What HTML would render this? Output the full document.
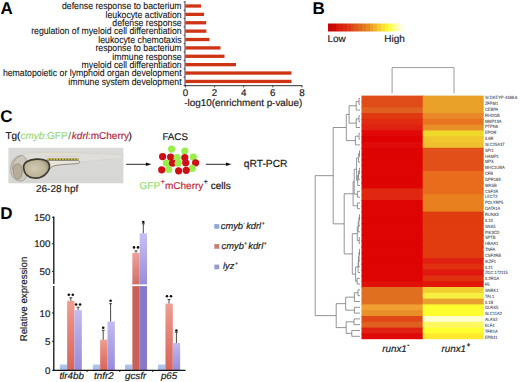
<!DOCTYPE html>
<html><head><meta charset="utf-8"><style>
html,body{margin:0;padding:0;background:#fff;}
body{width:520px;height:382px;overflow:hidden;}
svg{display:block;font-family:"Liberation Sans", sans-serif;text-rendering:geometricPrecision;}
</style></head><body>
<svg width="520" height="382" viewBox="0 0 520 382">
<rect width="520" height="382" fill="#fff"/>
<text x="0.4" y="14.3" font-size="17" font-weight="bold">A</text>
<text transform="translate(181.6 9.25) scale(0.968 1.08)" font-size="9.0" text-anchor="end" fill="#111" stroke="#111" stroke-width="0.08">defense response to bacterium</text>
<rect x="185.5" y="4.35" width="15.60" height="3.3" fill="#cf3514"/>
<text transform="translate(181.6 17.63) scale(0.968 1.08)" font-size="9.0" text-anchor="end" fill="#111" stroke="#111" stroke-width="0.08">leukocyte activation</text>
<rect x="185.5" y="12.73" width="18.50" height="3.3" fill="#cf3514"/>
<text transform="translate(181.6 26.01) scale(0.968 1.08)" font-size="9.0" text-anchor="end" fill="#111" stroke="#111" stroke-width="0.08">defense response</text>
<rect x="185.5" y="21.11" width="20.70" height="3.3" fill="#cf3514"/>
<text transform="translate(181.6 34.39) scale(0.968 1.08)" font-size="9.0" text-anchor="end" fill="#111" stroke="#111" stroke-width="0.08">regulation of myeloid cell differentiation</text>
<rect x="185.5" y="29.49" width="20.90" height="3.3" fill="#cf3514"/>
<text transform="translate(181.6 42.77) scale(0.968 1.08)" font-size="9.0" text-anchor="end" fill="#111" stroke="#111" stroke-width="0.08">leukocyte chemotaxis</text>
<rect x="185.5" y="37.87" width="23.90" height="3.3" fill="#cf3514"/>
<text transform="translate(181.6 51.15) scale(0.968 1.08)" font-size="9.0" text-anchor="end" fill="#111" stroke="#111" stroke-width="0.08">response to bacterium</text>
<rect x="185.5" y="46.25" width="35.00" height="3.3" fill="#cf3514"/>
<text transform="translate(181.6 59.53) scale(0.968 1.08)" font-size="9.0" text-anchor="end" fill="#111" stroke="#111" stroke-width="0.08">immune response</text>
<rect x="185.5" y="54.63" width="39.00" height="3.3" fill="#cf3514"/>
<text transform="translate(181.6 67.91) scale(0.968 1.08)" font-size="9.0" text-anchor="end" fill="#111" stroke="#111" stroke-width="0.08">myeloid cell differentiation</text>
<rect x="185.5" y="63.01" width="50.50" height="3.3" fill="#cf3514"/>
<text transform="translate(181.6 76.29) scale(0.968 1.08)" font-size="9.0" text-anchor="end" fill="#111" stroke="#111" stroke-width="0.08">hematopoietic or lymphoid organ development</text>
<rect x="185.5" y="71.39" width="106.00" height="3.3" fill="#cf3514"/>
<text transform="translate(181.6 84.67) scale(0.968 1.08)" font-size="9.0" text-anchor="end" fill="#111" stroke="#111" stroke-width="0.08">immune system development</text>
<rect x="185.5" y="79.77" width="106.00" height="3.3" fill="#cf3514"/>
<line x1="185" y1="1.2" x2="185" y2="85.9" stroke="#2a2a40" stroke-width="0.9"/>
<line x1="183.6" y1="1.76" x2="185" y2="1.76" stroke="#2a2a40" stroke-width="0.8"/>
<line x1="183.6" y1="10.14" x2="185" y2="10.14" stroke="#2a2a40" stroke-width="0.8"/>
<line x1="183.6" y1="18.52" x2="185" y2="18.52" stroke="#2a2a40" stroke-width="0.8"/>
<line x1="183.6" y1="26.90" x2="185" y2="26.90" stroke="#2a2a40" stroke-width="0.8"/>
<line x1="183.6" y1="35.28" x2="185" y2="35.28" stroke="#2a2a40" stroke-width="0.8"/>
<line x1="183.6" y1="43.66" x2="185" y2="43.66" stroke="#2a2a40" stroke-width="0.8"/>
<line x1="183.6" y1="52.04" x2="185" y2="52.04" stroke="#2a2a40" stroke-width="0.8"/>
<line x1="183.6" y1="60.42" x2="185" y2="60.42" stroke="#2a2a40" stroke-width="0.8"/>
<line x1="183.6" y1="68.80" x2="185" y2="68.80" stroke="#2a2a40" stroke-width="0.8"/>
<line x1="183.6" y1="77.18" x2="185" y2="77.18" stroke="#2a2a40" stroke-width="0.8"/>
<line x1="183.6" y1="85.56" x2="185" y2="85.56" stroke="#2a2a40" stroke-width="0.8"/>
<line x1="184.6" y1="85.7" x2="302.4" y2="85.7" stroke="#1a1a1a" stroke-width="0.9"/>
<line x1="185.50" y1="85.7" x2="185.50" y2="87.4" stroke="#1a1a1a" stroke-width="0.8"/>
<text x="185.50" y="96.1" font-size="9.8" text-anchor="middle" fill="#1a1a1a" stroke="#1a1a1a" stroke-width="0.18">0</text>
<line x1="214.60" y1="85.7" x2="214.60" y2="87.4" stroke="#1a1a1a" stroke-width="0.8"/>
<text x="214.60" y="96.1" font-size="9.8" text-anchor="middle" fill="#1a1a1a" stroke="#1a1a1a" stroke-width="0.18">2</text>
<line x1="243.70" y1="85.7" x2="243.70" y2="87.4" stroke="#1a1a1a" stroke-width="0.8"/>
<text x="243.70" y="96.1" font-size="9.8" text-anchor="middle" fill="#1a1a1a" stroke="#1a1a1a" stroke-width="0.18">4</text>
<line x1="272.80" y1="85.7" x2="272.80" y2="87.4" stroke="#1a1a1a" stroke-width="0.8"/>
<text x="272.80" y="96.1" font-size="9.8" text-anchor="middle" fill="#1a1a1a" stroke="#1a1a1a" stroke-width="0.18">6</text>
<line x1="301.90" y1="85.7" x2="301.90" y2="87.4" stroke="#1a1a1a" stroke-width="0.8"/>
<text x="301.90" y="96.1" font-size="9.8" text-anchor="middle" fill="#1a1a1a" stroke="#1a1a1a" stroke-width="0.18">8</text>
<text x="184.3" y="105.5" font-size="9.9" fill="#1a1a1a" stroke="#1a1a1a" stroke-width="0.18">-log10(enrichment p-value)</text>
<text x="312.6" y="14.2" font-size="17" font-weight="bold">B</text>
<defs><linearGradient id="cbar" x1="0" y1="0" x2="1" y2="0"><stop offset="0.0000" stop-color="#c80606"/><stop offset="0.0500" stop-color="#c80606"/><stop offset="0.0500" stop-color="#cc0a08"/><stop offset="0.1000" stop-color="#cc0a08"/><stop offset="0.1000" stop-color="#d4160c"/><stop offset="0.1500" stop-color="#d4160c"/><stop offset="0.1500" stop-color="#d8200e"/><stop offset="0.2000" stop-color="#d8200e"/><stop offset="0.2000" stop-color="#da2a10"/><stop offset="0.2500" stop-color="#da2a10"/><stop offset="0.2500" stop-color="#dc3a14"/><stop offset="0.3000" stop-color="#dc3a14"/><stop offset="0.3000" stop-color="#dc4a18"/><stop offset="0.3500" stop-color="#dc4a18"/><stop offset="0.3500" stop-color="#de5a1c"/><stop offset="0.4000" stop-color="#de5a1c"/><stop offset="0.4000" stop-color="#e0681e"/><stop offset="0.4500" stop-color="#e0681e"/><stop offset="0.4500" stop-color="#e27820"/><stop offset="0.5000" stop-color="#e27820"/><stop offset="0.5000" stop-color="#e68a24"/><stop offset="0.5500" stop-color="#e68a24"/><stop offset="0.5500" stop-color="#eca028"/><stop offset="0.6000" stop-color="#eca028"/><stop offset="0.6000" stop-color="#f2b42a"/><stop offset="0.6500" stop-color="#f2b42a"/><stop offset="0.6500" stop-color="#f8cc2e"/><stop offset="0.7000" stop-color="#f8cc2e"/><stop offset="0.7000" stop-color="#fce232"/><stop offset="0.7500" stop-color="#fce232"/><stop offset="0.7500" stop-color="#fff236"/><stop offset="0.8000" stop-color="#fff236"/><stop offset="0.8000" stop-color="#ffff44"/><stop offset="0.8500" stop-color="#ffff44"/><stop offset="0.8500" stop-color="#ffff80"/><stop offset="0.9000" stop-color="#ffff80"/><stop offset="0.9000" stop-color="#ffffb8"/><stop offset="0.9500" stop-color="#ffffb8"/><stop offset="0.9500" stop-color="#ffffe4"/><stop offset="1.0000" stop-color="#ffffe4"/></linearGradient></defs>
<rect x="328" y="23.5" width="75.60" height="8" fill="url(#cbar)"/>
<text x="327.4" y="42.2" font-size="10" fill="#1a1a1a" stroke="#1a1a1a" stroke-width="0.18">Low</text>
<text x="404.8" y="42.2" font-size="10" fill="#1a1a1a" text-anchor="end" stroke="#1a1a1a" stroke-width="0.18">High</text>
<rect x="361.5" y="95.60" width="62.20" height="7.00" fill="#e04c18"/>
<rect x="422.7" y="95.60" width="61.00" height="7.00" fill="#e8a028"/>
<text transform="translate(484.9 99.20) scale(0.88 1)" font-size="4.6" fill="#2a2a3a" stroke="#2a2a3a" stroke-width="0.04">SI:DKEYP-4488.6</text>
<rect x="361.5" y="101.40" width="62.20" height="7.00" fill="#e04c18"/>
<rect x="422.7" y="101.40" width="61.00" height="7.00" fill="#e8a028"/>
<text transform="translate(484.9 105.04) scale(0.88 1)" font-size="4.6" fill="#2a2a3a" stroke="#2a2a3a" stroke-width="0.04">ZFPM1</text>
<rect x="361.5" y="107.20" width="62.20" height="7.00" fill="#e06020"/>
<rect x="422.7" y="107.20" width="61.00" height="7.00" fill="#e8a028"/>
<text transform="translate(484.9 110.88) scale(0.88 1)" font-size="4.6" fill="#2a2a3a" stroke="#2a2a3a" stroke-width="0.04">CEBPA</text>
<rect x="361.5" y="113.00" width="62.20" height="7.00" fill="#e03810"/>
<rect x="422.7" y="113.00" width="61.00" height="7.00" fill="#e88828"/>
<text transform="translate(484.9 116.72) scale(0.88 1)" font-size="4.6" fill="#2a2a3a" stroke="#2a2a3a" stroke-width="0.04">RHOGB</text>
<rect x="361.5" y="118.80" width="62.20" height="7.00" fill="#e02c10"/>
<rect x="422.7" y="118.80" width="61.00" height="7.00" fill="#e87420"/>
<text transform="translate(484.9 122.56) scale(0.88 1)" font-size="4.6" fill="#2a2a3a" stroke="#2a2a3a" stroke-width="0.04">MMP13A</text>
<rect x="361.5" y="124.60" width="62.20" height="7.00" fill="#e02010"/>
<rect x="422.7" y="124.60" width="61.00" height="7.00" fill="#e89028"/>
<text transform="translate(484.9 128.40) scale(0.88 1)" font-size="4.6" fill="#2a2a3a" stroke="#2a2a3a" stroke-width="0.04">PTPN6</text>
<rect x="361.5" y="130.40" width="62.20" height="7.00" fill="#e00808"/>
<rect x="422.7" y="130.40" width="61.00" height="7.00" fill="#f0d82c"/>
<text transform="translate(484.9 134.24) scale(0.88 1)" font-size="4.6" fill="#2a2a3a" stroke="#2a2a3a" stroke-width="0.04">EPOR</text>
<rect x="361.5" y="136.20" width="62.20" height="7.00" fill="#de0000"/>
<rect x="422.7" y="136.20" width="61.00" height="7.00" fill="#f0c82e"/>
<text transform="translate(484.9 140.08) scale(0.88 1)" font-size="4.6" fill="#2a2a3a" stroke="#2a2a3a" stroke-width="0.04">IL6R</text>
<rect x="361.5" y="142.00" width="62.20" height="7.00" fill="#e00a0a"/>
<rect x="422.7" y="142.00" width="61.00" height="7.00" fill="#eec030"/>
<text transform="translate(484.9 145.92) scale(0.88 1)" font-size="4.6" fill="#2a2a3a" stroke="#2a2a3a" stroke-width="0.04">SLC25A37</text>
<rect x="361.5" y="147.80" width="62.20" height="7.00" fill="#de0404"/>
<rect x="422.7" y="147.80" width="61.00" height="7.00" fill="#e05018"/>
<text transform="translate(484.9 151.76) scale(0.88 1)" font-size="4.6" fill="#2a2a3a" stroke="#2a2a3a" stroke-width="0.04">SPI1</text>
<rect x="361.5" y="153.60" width="62.20" height="7.00" fill="#de0404"/>
<rect x="422.7" y="153.60" width="61.00" height="7.00" fill="#e05018"/>
<text transform="translate(484.9 157.60) scale(0.88 1)" font-size="4.6" fill="#2a2a3a" stroke="#2a2a3a" stroke-width="0.04">HAMP1</text>
<rect x="361.5" y="159.40" width="62.20" height="7.00" fill="#de0404"/>
<rect x="422.7" y="159.40" width="61.00" height="7.00" fill="#e05018"/>
<text transform="translate(484.9 163.44) scale(0.88 1)" font-size="4.6" fill="#2a2a3a" stroke="#2a2a3a" stroke-width="0.04">MPX</text>
<rect x="361.5" y="165.20" width="62.20" height="7.00" fill="#de0404"/>
<rect x="422.7" y="165.20" width="61.00" height="7.00" fill="#e05018"/>
<text transform="translate(484.9 169.28) scale(0.88 1)" font-size="4.6" fill="#2a2a3a" stroke="#2a2a3a" stroke-width="0.04">MHC1UBA</text>
<rect x="361.5" y="171.00" width="62.20" height="7.00" fill="#de0404"/>
<rect x="422.7" y="171.00" width="61.00" height="7.00" fill="#e86c1c"/>
<text transform="translate(484.9 175.12) scale(0.88 1)" font-size="4.6" fill="#2a2a3a" stroke="#2a2a3a" stroke-width="0.04">CFB</text>
<rect x="361.5" y="176.80" width="62.20" height="7.00" fill="#de0404"/>
<rect x="422.7" y="176.80" width="61.00" height="7.00" fill="#e86c1c"/>
<text transform="translate(484.9 180.96) scale(0.88 1)" font-size="4.6" fill="#2a2a3a" stroke="#2a2a3a" stroke-width="0.04">GPR183</text>
<rect x="361.5" y="182.60" width="62.20" height="7.00" fill="#de0404"/>
<rect x="422.7" y="182.60" width="61.00" height="7.00" fill="#e86c1c"/>
<text transform="translate(484.9 186.80) scale(0.88 1)" font-size="4.6" fill="#2a2a3a" stroke="#2a2a3a" stroke-width="0.04">WASB</text>
<rect x="361.5" y="188.40" width="62.20" height="7.00" fill="#e02810"/>
<rect x="422.7" y="188.40" width="61.00" height="7.00" fill="#e86c1c"/>
<text transform="translate(484.9 192.64) scale(0.88 1)" font-size="4.6" fill="#2a2a3a" stroke="#2a2a3a" stroke-width="0.04">CSF1R</text>
<rect x="361.5" y="194.20" width="62.20" height="7.00" fill="#e02810"/>
<rect x="422.7" y="194.20" width="61.00" height="7.00" fill="#e88020"/>
<text transform="translate(484.9 198.48) scale(0.88 1)" font-size="4.6" fill="#2a2a3a" stroke="#2a2a3a" stroke-width="0.04">LECT2</text>
<rect x="361.5" y="200.00" width="62.20" height="7.00" fill="#de0404"/>
<rect x="422.7" y="200.00" width="61.00" height="7.00" fill="#e88020"/>
<text transform="translate(484.9 204.32) scale(0.88 1)" font-size="4.6" fill="#2a2a3a" stroke="#2a2a3a" stroke-width="0.04">POLYRP5</text>
<rect x="361.5" y="205.80" width="62.20" height="7.00" fill="#de0404"/>
<rect x="422.7" y="205.80" width="61.00" height="7.00" fill="#e88020"/>
<text transform="translate(484.9 210.16) scale(0.88 1)" font-size="4.6" fill="#2a2a3a" stroke="#2a2a3a" stroke-width="0.04">GATA1A</text>
<rect x="361.5" y="211.60" width="62.20" height="7.00" fill="#de0404"/>
<rect x="422.7" y="211.60" width="61.00" height="7.00" fill="#e03c10"/>
<text transform="translate(484.9 216.00) scale(0.88 1)" font-size="4.6" fill="#2a2a3a" stroke="#2a2a3a" stroke-width="0.04">RUNX3</text>
<rect x="361.5" y="217.40" width="62.20" height="7.00" fill="#de0404"/>
<rect x="422.7" y="217.40" width="61.00" height="7.00" fill="#e03c10"/>
<text transform="translate(484.9 221.84) scale(0.88 1)" font-size="4.6" fill="#2a2a3a" stroke="#2a2a3a" stroke-width="0.04">IL10</text>
<rect x="361.5" y="223.20" width="62.20" height="7.00" fill="#de0404"/>
<rect x="422.7" y="223.20" width="61.00" height="7.00" fill="#e03c10"/>
<text transform="translate(484.9 227.68) scale(0.88 1)" font-size="4.6" fill="#2a2a3a" stroke="#2a2a3a" stroke-width="0.04">SNX5</text>
<rect x="361.5" y="229.00" width="62.20" height="7.00" fill="#de0404"/>
<rect x="422.7" y="229.00" width="61.00" height="7.00" fill="#e03c10"/>
<text transform="translate(484.9 233.52) scale(0.88 1)" font-size="4.6" fill="#2a2a3a" stroke="#2a2a3a" stroke-width="0.04">PIK3CD</text>
<rect x="361.5" y="234.80" width="62.20" height="7.00" fill="#de0404"/>
<rect x="422.7" y="234.80" width="61.00" height="7.00" fill="#e03c10"/>
<text transform="translate(484.9 239.36) scale(0.88 1)" font-size="4.6" fill="#2a2a3a" stroke="#2a2a3a" stroke-width="0.04">SPTB</text>
<rect x="361.5" y="240.60" width="62.20" height="7.00" fill="#de0404"/>
<rect x="422.7" y="240.60" width="61.00" height="7.00" fill="#e03c10"/>
<text transform="translate(484.9 245.20) scale(0.88 1)" font-size="4.6" fill="#2a2a3a" stroke="#2a2a3a" stroke-width="0.04">HBAA1</text>
<rect x="361.5" y="246.40" width="62.20" height="7.00" fill="#de0404"/>
<rect x="422.7" y="246.40" width="61.00" height="7.00" fill="#e03c10"/>
<text transform="translate(484.9 251.04) scale(0.88 1)" font-size="4.6" fill="#2a2a3a" stroke="#2a2a3a" stroke-width="0.04">TNFA</text>
<rect x="361.5" y="252.20" width="62.20" height="7.00" fill="#de0404"/>
<rect x="422.7" y="252.20" width="61.00" height="7.00" fill="#e03c10"/>
<text transform="translate(484.9 256.88) scale(0.88 1)" font-size="4.6" fill="#2a2a3a" stroke="#2a2a3a" stroke-width="0.04">CSF2RB</text>
<rect x="361.5" y="258.00" width="62.20" height="7.00" fill="#de0404"/>
<rect x="422.7" y="258.00" width="61.00" height="7.00" fill="#e02010"/>
<text transform="translate(484.9 262.72) scale(0.88 1)" font-size="4.6" fill="#2a2a3a" stroke="#2a2a3a" stroke-width="0.04">IKZF1</text>
<rect x="361.5" y="263.80" width="62.20" height="7.00" fill="#de0404"/>
<rect x="422.7" y="263.80" width="61.00" height="7.00" fill="#e03010"/>
<text transform="translate(484.9 268.56) scale(0.88 1)" font-size="4.6" fill="#2a2a3a" stroke="#2a2a3a" stroke-width="0.04">IL21</text>
<rect x="361.5" y="269.60" width="62.20" height="7.00" fill="#de0404"/>
<rect x="422.7" y="269.60" width="61.00" height="7.00" fill="#e01810"/>
<text transform="translate(484.9 274.40) scale(0.88 1)" font-size="4.6" fill="#2a2a3a" stroke="#2a2a3a" stroke-width="0.04">ZGC:172115</text>
<rect x="361.5" y="275.40" width="62.20" height="7.00" fill="#de0404"/>
<rect x="422.7" y="275.40" width="61.00" height="7.00" fill="#e03010"/>
<text transform="translate(484.9 280.24) scale(0.88 1)" font-size="4.6" fill="#2a2a3a" stroke="#2a2a3a" stroke-width="0.04">IL2RGA</text>
<rect x="361.5" y="281.20" width="62.20" height="7.00" fill="#e01008"/>
<rect x="422.7" y="281.20" width="61.00" height="7.00" fill="#e01808"/>
<text transform="translate(484.9 286.08) scale(0.88 1)" font-size="4.6" fill="#2a2a3a" stroke="#2a2a3a" stroke-width="0.04">F5</text>
<rect x="361.5" y="287.00" width="62.20" height="7.00" fill="#e07020"/>
<rect x="422.7" y="287.00" width="61.00" height="7.00" fill="#f0d030"/>
<text transform="translate(484.9 291.92) scale(0.88 1)" font-size="4.6" fill="#2a2a3a" stroke="#2a2a3a" stroke-width="0.04">SNRK1</text>
<rect x="361.5" y="292.80" width="62.20" height="7.00" fill="#e07020"/>
<rect x="422.7" y="292.80" width="61.00" height="7.00" fill="#f8f040"/>
<text transform="translate(484.9 297.76) scale(0.88 1)" font-size="4.6" fill="#2a2a3a" stroke="#2a2a3a" stroke-width="0.04">TAL1</text>
<rect x="361.5" y="298.60" width="62.20" height="7.00" fill="#e07020"/>
<rect x="422.7" y="298.60" width="61.00" height="7.00" fill="#e8a030"/>
<text transform="translate(484.9 303.60) scale(0.88 1)" font-size="4.6" fill="#2a2a3a" stroke="#2a2a3a" stroke-width="0.04">IL1B</text>
<rect x="361.5" y="304.40" width="62.20" height="7.00" fill="#f0a030"/>
<rect x="422.7" y="304.40" width="61.00" height="7.00" fill="#ffff30"/>
<text transform="translate(484.9 309.44) scale(0.88 1)" font-size="4.6" fill="#2a2a3a" stroke="#2a2a3a" stroke-width="0.04">GLRX5</text>
<rect x="361.5" y="310.20" width="62.20" height="7.00" fill="#e89028"/>
<rect x="422.7" y="310.20" width="61.00" height="7.00" fill="#ffff30"/>
<text transform="translate(484.9 315.28) scale(0.88 1)" font-size="4.6" fill="#2a2a3a" stroke="#2a2a3a" stroke-width="0.04">SLC11A2</text>
<rect x="361.5" y="316.00" width="62.20" height="7.00" fill="#e04818"/>
<rect x="422.7" y="316.00" width="61.00" height="7.00" fill="#ffffd0"/>
<text transform="translate(484.9 321.12) scale(0.88 1)" font-size="4.6" fill="#2a2a3a" stroke="#2a2a3a" stroke-width="0.04">ALAS2</text>
<rect x="361.5" y="321.80" width="62.20" height="7.00" fill="#e06020"/>
<rect x="422.7" y="321.80" width="61.00" height="7.00" fill="#fff860"/>
<text transform="translate(484.9 326.96) scale(0.88 1)" font-size="4.6" fill="#2a2a3a" stroke="#2a2a3a" stroke-width="0.04">KLF4</text>
<rect x="361.5" y="327.60" width="62.20" height="7.00" fill="#e02010"/>
<rect x="422.7" y="327.60" width="61.00" height="7.00" fill="#ffff30"/>
<text transform="translate(484.9 332.80) scale(0.88 1)" font-size="4.6" fill="#2a2a3a" stroke="#2a2a3a" stroke-width="0.04">TFR1A</text>
<rect x="361.5" y="333.40" width="62.20" height="5.80" fill="#e00808"/>
<rect x="422.7" y="333.40" width="61.00" height="5.80" fill="#ffe830"/>
<text transform="translate(484.9 338.64) scale(0.88 1)" font-size="4.6" fill="#2a2a3a" stroke="#2a2a3a" stroke-width="0.04">EPB41</text>
<path d="M392.1 93.4V67.6H454V93.4" fill="none" stroke="#909090" stroke-width="0.9"/>
<path d="M360.0 98.50H359.0V104.30H360.0 M359.0 101.40H356.2V110.10H360.0 M360.0 115.90H359.0V121.70H360.0 M359.0 118.80H356.2V127.50H360.0 M356.2 105.75H349.1V123.15H356.2 M360.0 133.30H359.0V139.10H360.0 M359.0 136.20H355.4V144.90H360.0 M349.1 114.45H346.3V140.55H355.4 M360.0 150.70H359.5V156.50H360.0 M359.5 153.60H358.6V162.30H360.0 M360.0 168.10H359.4V173.90H360.0 M359.4 171.00H358.5V179.70H360.0 M358.5 175.35H357.7V185.50H360.0 M358.6 157.95H356.6V180.43H357.7 M360.0 191.30H357.4V197.10H360.0 M356.6 169.19H354.2V194.20H357.4 M360.0 202.90H357.4V208.70H360.0 M354.2 181.69H353.1V205.80H357.4 M360.0 214.50H359.5V220.30H360.0 M359.5 217.40H358.9V226.10H360.0 M358.9 221.75H358.2V231.90H360.0 M360.0 237.70H359.2V243.50H360.0 M358.2 226.82H357.3V240.60H359.2 M360.0 249.30H359.5V255.10H360.0 M359.5 252.20H359.0V260.90H360.0 M359.0 256.55H358.6V266.70H360.0 M358.6 261.62H358.1V272.50H360.0 M360.0 278.30H357.1V284.10H360.0 M358.1 267.06H355.6V281.20H357.1 M357.3 233.71H352.3V274.13H355.6 M353.1 193.75H344.2V253.92H352.3 M346.3 127.50H333.2V223.83H344.2 M360.0 289.90H358.0V295.70H360.0 M358.0 292.80H354.4V301.50H360.0 M360.0 307.30H354.4V313.10H360.0 M354.4 297.15H345.7V310.20H354.4 M360.0 318.90H354.0V324.70H360.0 M360.0 330.50H351.8V336.30H360.0 M354.0 321.80H346.2V333.40H351.8 M345.7 303.67H336.2V327.60H346.2 M333.2 175.67H315.2V315.64H336.2" fill="none" stroke="#707070" stroke-width="0.75"/>
<text x="382.3" y="351.5" font-size="9.8" font-style="italic" fill="#1a1a1a" stroke="#1a1a1a" stroke-width="0.18">runx1<tspan dy="-4.4" dx="0.4" font-size="6.5" font-weight="bold">-</tspan></text>
<text x="441.5" y="351.5" font-size="9.8" font-style="italic" fill="#1a1a1a" stroke="#1a1a1a" stroke-width="0.18">runx1<tspan dy="-4.4" dx="0.4" font-size="6.5" font-weight="bold">+</tspan></text>
<text x="0.2" y="122.4" font-size="17" font-weight="bold">C</text>
<text x="5.4" y="138.7" font-size="10" fill="#111" stroke="#111" stroke-width="0.18">Tg(<tspan font-style="italic" fill="#98d878" stroke="#98d878" stroke-width="0.18">cmyb</tspan><tspan fill="#98d878" stroke="#98d878" stroke-width="0.18">:GFP</tspan><tspan dx="0.6" fill="#6a8a68" stroke="#6a8a68" stroke-width="0.18">/</tspan><tspan dx="0.8" font-style="italic" fill="#b02848" stroke="#b02848" stroke-width="0.18">kdrl</tspan><tspan fill="#b02848" stroke="#b02848" stroke-width="0.18">:mCherry</tspan><tspan dx="-0.6">)</tspan></text>
<defs><linearGradient id="bg" x1="0" y1="0" x2="0" y2="1"><stop offset="0" stop-color="#dadad9"/><stop offset="1" stop-color="#d6d6d5"/></linearGradient>
<radialGradient id="yolk" cx="0.42" cy="0.5" r="0.62"><stop offset="0" stop-color="#d2cab2"/><stop offset="0.7" stop-color="#bcb498"/><stop offset="1" stop-color="#8c846a"/></radialGradient></defs>
<rect x="8.4" y="147.8" width="115" height="35.5" fill="url(#bg)"/>
<path d="M20 156 C25 152.8 34 152.2 44 152.2 C70 152.4 100 153.4 122.6 154.8 L122.6 158.6 C105 159.6 88 161 79 162.5 L50 166 Z" fill="#dfded9" stroke="#c8c7c0" stroke-width="0.4"/>
<line x1="44" y1="153.4" x2="80" y2="153.4" stroke="#e6e29a" stroke-width="0.8" opacity="0.6"/>
<line x1="44" y1="156.2" x2="80" y2="156.2" stroke="#dcc4d4" stroke-width="1" opacity="0.6"/>
<path d="M45 160.4 L78.5 160.6 C80.5 161.5 80 163.2 77.5 163.6 C66 164.3 57 164.8 53.5 166 C50.8 167 49.6 169 48.2 171 L45 168 Z" fill="#e8e5da" stroke="#6a6456" stroke-width="0.7"/>
<path d="M22 155.5 C15.5 155.5 11 161 10.6 168 C10.3 175 13.5 180.5 20 181 C25 181.3 27.5 177 27.5 170 C27.5 162 26 156 22 155.5 Z" fill="#cdc8bd" stroke="#978d7c" stroke-width="0.6"/>
<path d="M21 155.6 C15 158 12.2 163 12.6 170" fill="none" stroke="#9c9484" stroke-width="0.7"/>
<path d="M14 166 C15.5 163.5 19 163 21 165.5 C22.8 168 22.6 174 20.8 177.5 C19 180 15.6 179.5 14.4 176.5 C13.2 173.5 13 168.5 14 166 Z" fill="#b8ad9b" stroke="#857a68" stroke-width="0.6"/>
<path d="M23.6 167.5 C23.4 162.5 29 159.4 36.5 159.2 C43 159 48.6 160.2 49.4 165 C50 168.5 47.8 172.5 44.6 175.2 C41.6 177.8 37.5 178.3 33.8 178 C27.5 177.3 23.8 173 23.6 167.5 Z" fill="url(#yolk)" stroke="#3e3a2e" stroke-width="1.7"/>
<line x1="47.5" y1="159.2" x2="78.5" y2="159.2" stroke="#4a4020" stroke-width="1.3"/>
<line x1="47.5" y1="159.2" x2="78.5" y2="159.2" stroke="#e8e040" stroke-width="1.3" stroke-dasharray="1.8 1.1"/>
<text x="36" y="192.3" font-size="10" fill="#1a1a1a" stroke="#1a1a1a" stroke-width="0.18">26-28 hpf</text>
<line x1="126.2" y1="164.3" x2="147.4" y2="164.3" stroke="#111" stroke-width="0.9"/>
<path d="M151.4 164.3L145.9 162.5L145.9 166.10000000000002Z" fill="#111"/>
<line x1="205.8" y1="164.3" x2="227.5" y2="164.3" stroke="#111" stroke-width="0.9"/>
<path d="M231.5 164.3L226.0 162.5L226.0 166.10000000000002Z" fill="#111"/>
<text x="162.4" y="139.5" font-size="9.8" fill="#1a1a1a" stroke="#1a1a1a" stroke-width="0.18">FACS</text>
<text x="243.7" y="166.6" font-size="10.3" fill="#1a1a1a" stroke="#1a1a1a" stroke-width="0.18">qRT-PCR</text>
<circle cx="171.6" cy="149.1" r="3.6" fill="#9aee4a"/>
<circle cx="184.8" cy="151.0" r="3.6" fill="#9aee4a"/>
<circle cx="162.6" cy="156.6" r="3.6" fill="#cf0f18"/>
<circle cx="170.6" cy="157.1" r="3.6" fill="#cf0f18"/>
<circle cx="184.8" cy="157.6" r="3.6" fill="#cf0f18"/>
<circle cx="177.2" cy="157.6" r="3.6" fill="#9aee4a"/>
<circle cx="193.3" cy="157.1" r="3.6" fill="#9aee4a"/>
<circle cx="166.4" cy="163.2" r="3.6" fill="#9aee4a"/>
<circle cx="172.5" cy="163.2" r="3.6" fill="#cf0f18"/>
<circle cx="178.2" cy="163.2" r="3.6" fill="#9aee4a"/>
<circle cx="185.7" cy="162.8" r="3.6" fill="#cf0f18"/>
<circle cx="195.6" cy="162.8" r="3.6" fill="#cf0f18"/>
<circle cx="168.7" cy="169.4" r="3.6" fill="#9aee4a"/>
<circle cx="192.3" cy="168.4" r="3.6" fill="#9aee4a"/>
<circle cx="161.7" cy="169.8" r="3.6" fill="#cf0f18"/>
<circle cx="178.6" cy="170.8" r="3.6" fill="#cf0f18"/>
<circle cx="186.2" cy="170.3" r="3.6" fill="#cf0f18"/>
<text x="139.6" y="188.7" font-size="10" fill="#111" stroke="#111" stroke-width="0.18"><tspan fill="#98e070" stroke="#98e070" stroke-width="0.18">GFP</tspan><tspan dy="-4.6" dx="0.5" font-size="7" fill="#c02838" stroke="#c02838" stroke-width="0.18">+</tspan><tspan dy="4.6" dx="0.2" fill="#c02838" stroke="#c02838" stroke-width="0.18">mCherry</tspan><tspan dy="-4.6" dx="0.5" font-size="7" fill="#222" stroke="#222" stroke-width="0.18">+</tspan><tspan dy="4.6" fill="#111" stroke="#111" stroke-width="0.18"> cells</tspan></text>
<text x="0.2" y="219.3" font-size="17" font-weight="bold">D</text>
<defs><linearGradient id="gr" x1="0" y1="0" x2="0" y2="1"><stop offset="0" stop-color="#eea094"/><stop offset="0.3" stop-color="#e88a7e"/><stop offset="1" stop-color="#d9645a"/></linearGradient><linearGradient id="gp" x1="0" y1="0" x2="0" y2="1"><stop offset="0" stop-color="#c4bcf0"/><stop offset="0.3" stop-color="#b4acea"/><stop offset="1" stop-color="#988cdc"/></linearGradient><linearGradient id="gr2" x1="0" y1="0" x2="0" y2="1"><stop offset="0" stop-color="#eea29a"/><stop offset="1" stop-color="#d06c64"/></linearGradient><linearGradient id="gp2" x1="0" y1="0" x2="0" y2="1"><stop offset="0" stop-color="#c8c0f2"/><stop offset="1" stop-color="#968cd8"/></linearGradient><linearGradient id="gb" x1="0" y1="0" x2="0" y2="1"><stop offset="0" stop-color="#b4c8ee"/><stop offset="1" stop-color="#a0b8e8"/></linearGradient></defs>
<rect x="59.8" y="364.5" width="7.35" height="5.800000000000011" fill="url(#gb)"/>
<rect x="67.14999999999999" y="300.75" width="7.35" height="69.55000000000001" fill="url(#gr)"/>
<rect x="74.5" y="310.2" width="7.35" height="60.10000000000002" fill="url(#gp)"/>
<rect x="92.8" y="364.5" width="7.35" height="5.800000000000011" fill="url(#gb)"/>
<rect x="100.14999999999999" y="339.7" width="7.35" height="30.600000000000023" fill="url(#gr)"/>
<rect x="107.5" y="321.5" width="7.35" height="48.80000000000001" fill="url(#gp)"/>
<rect x="125" y="364.5" width="7.35" height="5.800000000000011" fill="url(#gb)"/>
<rect x="132.35" y="252.8" width="7.35" height="33.19999999999999" fill="url(#gr2)"/>
<rect x="139.7" y="233.3" width="7.35" height="52.69999999999999" fill="url(#gp2)"/>
<rect x="132.35" y="286" width="7.35" height="84.30000000000001" fill="#c8605a"/>
<rect x="139.7" y="286" width="7.35" height="84.30000000000001" fill="#8878c8"/>
<rect x="158.1" y="364.5" width="7.35" height="5.800000000000011" fill="url(#gb)"/>
<rect x="165.45" y="303.6" width="7.35" height="66.69999999999999" fill="url(#gr)"/>
<rect x="172.79999999999998" y="343" width="7.35" height="27.30000000000001" fill="url(#gp)"/>
<rect x="131" y="284.4" width="17" height="1.7" fill="#fff"/>
<line x1="70.8" y1="300.75" x2="70.8" y2="297.8" stroke="#333" stroke-width="0.9"/>
<line x1="69.3" y1="297.8" x2="72.3" y2="297.8" stroke="#333" stroke-width="0.9"/>
<circle cx="68.80" cy="294.80" r="1.3" fill="#111"/>
<circle cx="72.80" cy="294.80" r="1.3" fill="#111"/>
<line x1="78.1" y1="310.2" x2="78.1" y2="307.2" stroke="#333" stroke-width="0.9"/>
<line x1="76.6" y1="307.2" x2="79.6" y2="307.2" stroke="#333" stroke-width="0.9"/>
<circle cx="76.10" cy="304.50" r="1.3" fill="#111"/>
<circle cx="80.10" cy="304.50" r="1.3" fill="#111"/>
<line x1="103.2" y1="339.7" x2="103.2" y2="330.3" stroke="#333" stroke-width="0.9"/>
<line x1="101.7" y1="330.3" x2="104.7" y2="330.3" stroke="#333" stroke-width="0.9"/>
<circle cx="103.20" cy="327.80" r="1.3" fill="#111"/>
<line x1="110.6" y1="321.5" x2="110.6" y2="303.7" stroke="#333" stroke-width="0.9"/>
<line x1="109.1" y1="303.7" x2="112.1" y2="303.7" stroke="#333" stroke-width="0.9"/>
<circle cx="110.60" cy="300.80" r="1.3" fill="#111"/>
<line x1="136" y1="252.6" x2="136" y2="250.9" stroke="#333" stroke-width="0.9"/>
<line x1="134.5" y1="250.9" x2="137.5" y2="250.9" stroke="#333" stroke-width="0.9"/>
<circle cx="134.00" cy="247.40" r="1.3" fill="#111"/>
<circle cx="138.00" cy="247.40" r="1.3" fill="#111"/>
<line x1="143.3" y1="233.3" x2="143.3" y2="223.8" stroke="#333" stroke-width="0.9"/>
<line x1="141.8" y1="223.8" x2="144.8" y2="223.8" stroke="#333" stroke-width="0.9"/>
<circle cx="143.30" cy="222.00" r="1.3" fill="#111"/>
<line x1="169" y1="303.6" x2="169" y2="299.5" stroke="#333" stroke-width="0.9"/>
<line x1="167.5" y1="299.5" x2="170.5" y2="299.5" stroke="#333" stroke-width="0.9"/>
<circle cx="167.00" cy="296.30" r="1.3" fill="#111"/>
<circle cx="171.00" cy="296.30" r="1.3" fill="#111"/>
<line x1="176.4" y1="343" x2="176.4" y2="332.2" stroke="#333" stroke-width="0.9"/>
<line x1="174.9" y1="332.2" x2="177.9" y2="332.2" stroke="#333" stroke-width="0.9"/>
<circle cx="176.40" cy="330.50" r="1.3" fill="#111"/>
<path d="M53.8 216.5V284.1M53.8 286V370.9" stroke="#111" stroke-width="1.3" fill="none"/>
<line x1="53.2" y1="370.4" x2="185.5" y2="370.4" stroke="#111" stroke-width="1.2"/>
<line x1="52" y1="217.3" x2="53.8" y2="217.3" stroke="#111" stroke-width="0.9"/>
<text x="50.3" y="220.9" font-size="9.7" text-anchor="end" fill="#1a1a1a" stroke="#1a1a1a" stroke-width="0.18">150</text>
<line x1="52" y1="243.8" x2="53.8" y2="243.8" stroke="#111" stroke-width="0.9"/>
<text x="50.3" y="247.4" font-size="9.7" text-anchor="end" fill="#1a1a1a" stroke="#1a1a1a" stroke-width="0.18">100</text>
<line x1="52" y1="271.4" x2="53.8" y2="271.4" stroke="#111" stroke-width="0.9"/>
<text x="50.3" y="275.0" font-size="9.7" text-anchor="end" fill="#1a1a1a" stroke="#1a1a1a" stroke-width="0.18">50</text>
<line x1="52" y1="312.9" x2="53.8" y2="312.9" stroke="#111" stroke-width="0.9"/>
<text x="50.3" y="316.5" font-size="9.7" text-anchor="end" fill="#1a1a1a" stroke="#1a1a1a" stroke-width="0.18">10</text>
<line x1="52" y1="341.3" x2="53.8" y2="341.3" stroke="#111" stroke-width="0.9"/>
<text x="50.3" y="344.9" font-size="9.7" text-anchor="end" fill="#1a1a1a" stroke="#1a1a1a" stroke-width="0.18">5</text>
<line x1="52" y1="370.3" x2="53.8" y2="370.3" stroke="#111" stroke-width="0.9"/>
<text x="50.3" y="373.9" font-size="9.7" text-anchor="end" fill="#1a1a1a" stroke="#1a1a1a" stroke-width="0.18">0</text>
<line x1="87.1" y1="370.4" x2="87.1" y2="372" stroke="#111" stroke-width="0.9"/>
<line x1="119.8" y1="370.4" x2="119.8" y2="372" stroke="#111" stroke-width="0.9"/>
<line x1="152.7" y1="370.4" x2="152.7" y2="372" stroke="#111" stroke-width="0.9"/>
<text transform="translate(26.6 299) rotate(-90)" font-size="9.7" text-anchor="middle" fill="#1a1a1a" stroke="#1a1a1a" stroke-width="0.18">Relative expression</text>
<text x="59.4" y="378.8" font-size="9.8" font-style="italic" fill="#1a1a1a" stroke="#1a1a1a" stroke-width="0.18">tlr4bb</text>
<text x="94" y="378.8" font-size="9.8" font-style="italic" fill="#1a1a1a" stroke="#1a1a1a" stroke-width="0.18">tnfr2</text>
<text x="125" y="378.8" font-size="9.8" font-style="italic" fill="#1a1a1a" stroke="#1a1a1a" stroke-width="0.18">gcsfr</text>
<text x="160.9" y="378.8" font-size="9.8" font-style="italic" fill="#1a1a1a" stroke="#1a1a1a" stroke-width="0.18">p65</text>
<rect x="214.3" y="224.1" width="5" height="4.7" fill="#8aa8d8"/>
<rect x="214.3" y="244.1" width="5" height="4.7" fill="#c88078"/>
<rect x="214.3" y="264.6" width="5" height="4.7" fill="#9c9ccc"/>
<text x="220.8" y="228.6" font-size="9.3" font-style="italic" fill="#1a1a1a" stroke="#1a1a1a" stroke-width="0.18">cmyb<tspan dy="-3.8" dx="0.3" font-size="5">-</tspan><tspan dy="3.8" dx="1.2">kdrl</tspan><tspan dy="-3.8" dx="0.6" font-size="5">+</tspan></text>
<text x="221.6" y="248.7" font-size="9.3" font-style="italic" fill="#1a1a1a" stroke="#1a1a1a" stroke-width="0.18">cmyb<tspan dy="-3.8" dx="0.3" font-size="5">+</tspan><tspan dy="3.8" dx="1.2">kdrl</tspan><tspan dy="-3.8" dx="0.6" font-size="5">+</tspan></text>
<text x="223" y="269.1" font-size="9.3" font-style="italic" fill="#1a1a1a" stroke="#1a1a1a" stroke-width="0.18">lyz<tspan dy="-3.8" dx="0.6" font-size="5">+</tspan></text>
</svg>
</body></html>
